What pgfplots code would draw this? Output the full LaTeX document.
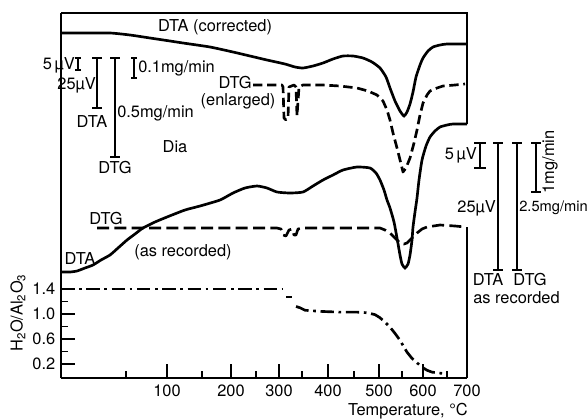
\documentclass[border=0pt]{standalone}
\usepackage{pgfplots}
\pgfplotsset{compat=1.18}
\usepackage{fontspec}
\setmainfont{TeX Gyre Heros}
\begin{document}
\fontsize{12.3}{14}\selectfont
\begin{tikzpicture}[font=\fontsize{12.3}{14}\selectfont]
% main axis: water content H2O/Al2O3 (x in chart units, labelled in degC)
\begin{axis}[at={(0pt,0pt)}, anchor=south west, scale only axis,
  width=304.5pt, height=273.75pt,
  xmin=61, xmax=467, ymin=-0.024, ymax=5.816,
  axis lines*=left, axis line style={line width=1.5pt},
  tick align=inside,
  /pgf/number format/assume math mode=true,
  xtick={167,231,279,328,379,423,467}, xticklabels={100,200,300,400,500,600,700},
  minor xtick={126,202,256,302,354,402,447},
  ytick={0.2,0.6,1.0,1.4}, yticklabels={0.2,0.6,1.0,1.4},
  minor ytick={0.4,0.8,1.2},
  major tick length=10.5pt, minor tick length=5pt,
  every tick/.style={black, line width=1pt},
  xticklabel style={yshift=-1pt},
  clip=false]
\addplot[line width=2pt, dash pattern=on 10pt off 3.5pt on 2pt off 3.5pt] coordinates {
 (61,1.4) (120,1.4) (200,1.4) (280,1.4) (283,1.4) };
\addplot[line width=2pt] coordinates {(286,1.27) (292,1.27)};
\addplot[line width=2pt, dash pattern=on 10pt off 3.5pt on 2pt off 3.5pt] coordinates {
 (296,1.12) (300,1.10) (305,1.06) (323,1.04) (340,1.03) (357,1.03) (367,1.02) (375,0.99)
 (380,0.94) (385,0.87) (390,0.79) (395,0.69) (400,0.58) (404,0.47) (407,0.39) (412,0.29)
 (417,0.22) (422,0.15) (427,0.10) (432,0.07) (437,0.06) (442,0.05) (447,0.04) };
\end{axis}
% overlay axis for DTA / DTG traces (arbitrary units, chart coordinates)
\begin{axis}[at={(0pt,0pt)}, anchor=south west, scale only axis,
  width=304.5pt, height=273.75pt,
  xmin=61, xmax=467, ymin=13, ymax=378, y dir=reverse, hide axis, clip=false]
% DTA (corrected)
\addplot[line width=2pt, smooth, tension=0.35] coordinates {
 (61,33) (80,33) (110,33) (130,35) (150,38) (170,41) (183,43) (210,47) (233,52) (250,56)
 (267,60) (285,64) (295,67) (303,68) (313,66) (323,63) (333,59) (343,56) (353,56) (363,58)
 (372,62) (380,68) (386,77) (390,88) (395,101) (400,111) (404,116) (407,112) (410,104)
 (413,92) (416,77) (420,65) (423,58) (428,51) (433,47) (440,45) (447,44) (467,44) };
% DTG (enlarged)
\addplot[line width=2pt, dash pattern=on 7pt off 3.5pt, line join=round] coordinates {
 (253,85) (270,85) (282,85) (283,87) (284,118) (286,120) (288,118) (289,87) (294,85)
 (296,87) (297,116) (299,87) (303,85) (323,85) (340,86) (357,88) (368,91) (377,95) (383,101)
 (387,110) (390,120) (393,133) (397,148) (400,160) (403,172) (406,168) (410,158) (414,143)
 (417,130) (420,115) (423,103) (427,95) (430,91) (437,88) (443,86) (455,85) (465,84) };
% DTA (as recorded)
\addplot[line width=2pt, smooth, tension=0.35] coordinates {
 (61,272) (70,272) (77,271) (85,268) (93,265) (101,260) (110,255) (118,248) (127,240)
 (135,234) (143,228) (155,222) (167,217) (185,210) (200,206) (220,200) (233,193) (245,188)
 (257,186) (267,188) (277,192) (290,193) (303,192) (313,186) (323,180) (333,175) (343,170)
 (357,167) (370,168) (376,173) (380,180) (384,190) (387,200) (390,208) (394,222) (397,238)
 (400,255) (402,264) (405,268) (408,264) (410,255) (412,240) (413,227) (415,212) (417,198)
 (419,180) (422,160) (426,146) (430,137) (435,131) (440,127) (447,125) (453,124) (467,124) };
% DTG (as recorded)
\addplot[line width=2pt, dash pattern=on 9pt off 4pt, line join=round] coordinates {
 (97,228) (150,228) (200,228) (250,228) (277,228) (281,229) (283,235) (286,236) (289,230)
 (292,229) (294,235) (296,235) (298,229) (303,228) (340,228) (380,228) (385,230) (390,233)
 (395,238) (400,243) (404,244) (407,243) (412,238) (417,233) (422,229) (427,227) (440,225)
 (455,226) (465,227) };
\end{axis}
% annotations in picture pixel coordinates
\begin{scope}[x=0.75pt, y=-0.75pt, shift={(-45.75pt,283.5pt)}]
 % frame top and right
 \draw[line width=1.5pt] (61,13) -- (467,13) -- (467,124);
 \draw[line width=1.5pt] (467,227) -- (467,378);
 % texts
 \node at (215,27) {DTA (corrected)};
 \node[anchor=east, inner sep=0pt] at (252,83) {DTG};
 \node[inner sep=0pt] at (238,101) {(enlarged)};
 \node at (80,259) {DTA};
 \node at (183,252) {(as recorded)};
 \node at (106,219) {DTG};
 \node at (175,147) {Dia};
 % left scale bars
 \begin{scope}[line width=0.8pt]
  \draw (78,58) -- (78,70); \draw (75,58) -- (81,58); \draw (75,70) -- (81,70);
  \draw (97,58) -- (97,108); \draw (92,58) -- (102,58); \draw (92,108) -- (102,108);
  \draw (115,58) -- (115,157); \draw (110,58) -- (120,58); \draw (110,157) -- (120,157);
  \draw (134,58) -- (134,78); \draw (131,58) -- (137,58); \draw (131,78) -- (137,78);
 \end{scope}
 \node[anchor=east, inner sep=0pt] at (75,65) {5\,µV};
 \node[anchor=east, inner sep=0pt] at (96,85) {25µV};
 \node at (92,122) {DTA};
 \node[anchor=west, inner sep=0pt] at (117,113) {0.5mg/min};
 \node at (115,168) {DTG};
 \node[anchor=west, inner sep=0pt] at (138,68) {0.1mg/min};
 % right scale bars
 \begin{scope}[line width=0.8pt]
  \draw (480,143) -- (480,168); \draw (474,143) -- (486,143); \draw (474,168) -- (486,168);
  \draw (498,143) -- (498,270); \draw (493,143) -- (503,143); \draw (493,270) -- (503,270);
  \draw (517,143) -- (517,270); \draw (512,143) -- (522,143); \draw (512,270) -- (522,270);
  \draw (536,143) -- (536,192); \draw (531,143) -- (541,143); \draw (531,192) -- (541,192);
 \end{scope}
 \node[anchor=east, inner sep=0pt] at (477,155) {5\,µV};
 \node[anchor=east, inner sep=0pt] at (496,208) {25µV};
 \node[anchor=west, inner sep=0pt, font=\fontsize{11}{13}\selectfont] at (519,208) {2.5mg/min};
 \node[rotate=90] at (550,162) {1mg/min};
 \node at (488,280) {DTA};
 \node at (530,280) {DTG};
 \node[anchor=west, inner sep=0pt] at (473,298) {as recorded};
 % axis titles
 \node[rotate=90] at (18,313) {H\textsubscript{2}O/Al\textsubscript{2}O\textsubscript{3}};
 \node[anchor=east, inner sep=0pt] at (468,411) {Temperature, °C};
 \pgfresetboundingbox
 \useasboundingbox (0,0) rectangle (588,419);
\end{scope}
\end{tikzpicture}
\end{document}
